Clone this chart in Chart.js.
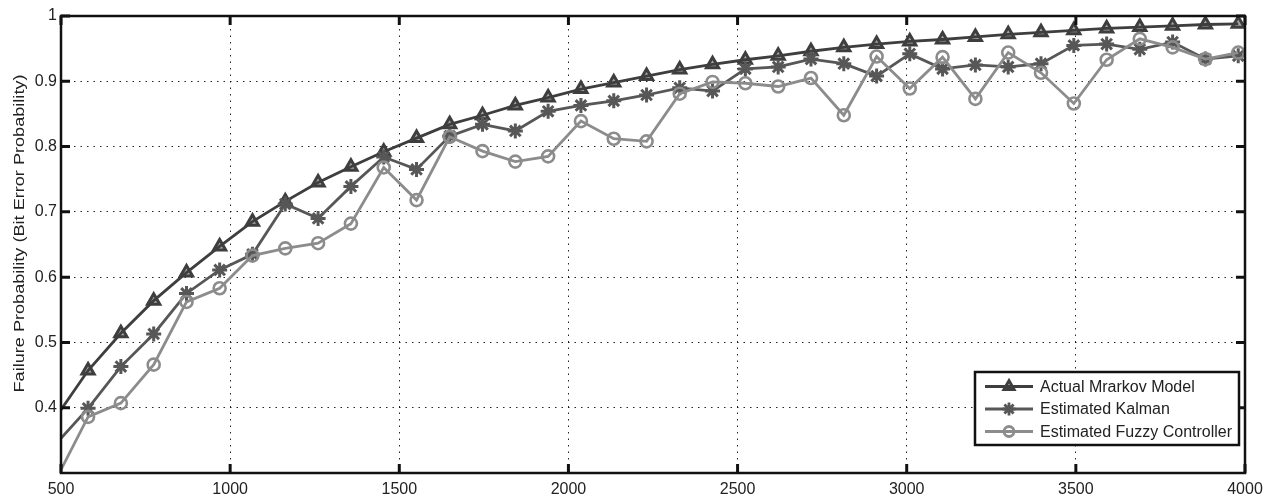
<!DOCTYPE html>
<html>
<head>
<meta charset="utf-8">
<script src="https://cdn.jsdelivr.net/npm/chart.js@4.4.1/dist/chart.umd.min.js"></script>
<style>
  body { margin: 0; background: #fff; }
  #wrap { width: 1271px; height: 498px; }
</style>
</head>
<body>
<div id="wrap"><canvas id="failChart" width="1271" height="498"></canvas></div>
<script>
// x positions of the samples (first one is where the lines leave the left axis)
const xValues = [500, 580, 677, 774, 871, 969, 1066, 1163, 1260, 1357, 1454, 1551, 1649, 1746,
    1843, 1940, 2037, 2134, 2231, 2329, 2426, 2523, 2620, 2717, 2814, 2911, 3009, 3106, 3203,
    3300, 3397, 3494, 3591, 3689, 3786, 3883, 3980];

const actualMarkov = [0.397, 0.457, 0.514, 0.564, 0.607, 0.647, 0.685, 0.716, 0.745, 0.769, 0.792,
    0.813, 0.834, 0.848, 0.863, 0.875, 0.888, 0.898, 0.908, 0.918, 0.926, 0.933, 0.939, 0.946,
    0.952, 0.957, 0.961, 0.964, 0.968, 0.972, 0.975, 0.978, 0.981, 0.983, 0.985, 0.987, 0.988];

const estKalman = [0.353, 0.399, 0.463, 0.513, 0.575, 0.611, 0.635, 0.712, 0.690, 0.739, 0.784,
    0.765, 0.816, 0.834, 0.824, 0.854, 0.863, 0.870, 0.879, 0.890, 0.885, 0.919, 0.922, 0.934,
    0.927, 0.908, 0.942, 0.919, 0.925, 0.922, 0.927, 0.955, 0.957, 0.949, 0.960, 0.934, 0.939];

const estFuzzy = [0.305, 0.386, 0.407, 0.466, 0.562, 0.583, 0.633, 0.644, 0.652, 0.682, 0.768,
    0.718, 0.815, 0.793, 0.777, 0.785, 0.839, 0.812, 0.808, 0.881, 0.899, 0.897, 0.892, 0.905,
    0.848, 0.938, 0.889, 0.937, 0.873, 0.944, 0.913, 0.866, 0.933, 0.965, 0.952, 0.934, 0.944];

const seriesNames = ["Actual Mrarkov Model", "Estimated Kalman", "Estimated Fuzzy Controller"];
const xTicks = [500, 1000, 1500, 2000, 2500, 3000, 3500, 4000];
const yTicks = [0.4, 0.5, 0.6, 0.7, 0.8, 0.9, 1];
const yTitle = 'Failure Probability (Bit Error Probability)';

const FONT = '"Liberation Sans", Arial, Helvetica, sans-serif';

function toPoints(vals) {
    return vals.map((v, i) => ({ x: xValues[i], y: v }));
}
// no marker on the clipped edge point
const radii = r => xValues.map((x, i) => i === 0 ? 0 : r);

function makeSet(label, vals, color, fill, style, r, bw, order) {
    return {
        label: label,
        data: toPoints(vals),
        borderColor: color,
        backgroundColor: 'rgba(0,0,0,0)',
        borderWidth: 2.8,
        pointStyle: style,
        pointRadius: radii(r),
        pointBorderColor: color,
        pointBackgroundColor: fill,
        pointBorderWidth: bw,
        tension: 0,
        order: order
    };
}

const frameAndLegend = {
    id: 'frameAndLegend',
    afterDraw(chart) {
        const { ctx, chartArea: a, scales } = chart;
        ctx.save();
        // axes box
        ctx.strokeStyle = '#111';
        ctx.lineWidth = 2.5;
        ctx.strokeRect(a.left, a.top, a.right - a.left, a.bottom - a.top);
        // inward tick marks on all four sides
        ctx.lineWidth = 3;
        ctx.beginPath();
        xTicks.forEach(v => {
            const px = scales.x.getPixelForValue(v);
            ctx.moveTo(px, a.bottom); ctx.lineTo(px, a.bottom - 9);
            ctx.moveTo(px, a.top); ctx.lineTo(px, a.top + 9);
        });
        yTicks.forEach(v => {
            const py = scales.y.getPixelForValue(v);
            ctx.moveTo(a.left, py); ctx.lineTo(a.left + 9, py);
            ctx.moveTo(a.right, py); ctx.lineTo(a.right - 9, py);
        });
        ctx.stroke();

        // y axis title, stretched along its length like the original
        ctx.save();
        ctx.font = '15px ' + FONT;
        ctx.fillStyle = '#222';
        ctx.textAlign = 'center';
        ctx.textBaseline = 'middle';
        ctx.translate(20, (a.top + a.bottom) / 2 - 11);
        ctx.rotate(-Math.PI / 2);
        const tw = ctx.measureText(yTitle).width;
        ctx.scale(318 / tw, 1);
        ctx.fillText(yTitle, 0, 0);
        ctx.restore();

        // legend box in the lower right corner
        const bw = 264, bh = 73;
        const bx = a.right - bw - 6, by = a.bottom - bh - 28;
        ctx.fillStyle = '#fff';
        ctx.fillRect(bx, by, bw, bh);
        ctx.lineWidth = 2.5;
        ctx.strokeStyle = '#111';
        ctx.strokeRect(bx, by, bw, bh);
        ctx.font = '16px ' + FONT;
        ctx.textBaseline = 'middle';
        chart.data.datasets.forEach((ds, i) => {
            const ry = by + 14.5 + i * 22.5;
            ctx.strokeStyle = ds.borderColor;
            ctx.lineWidth = ds.borderWidth;
            ctx.beginPath();
            ctx.moveTo(bx + 10, ry); ctx.lineTo(bx + 58, ry);
            ctx.stroke();
            ctx.fillStyle = ds.pointBackgroundColor;
            Chart.helpers.drawPoint(ctx, {
                pointStyle: ds.pointStyle, radius: ds.pointRadius[1] - 1,
                borderWidth: ds.pointBorderWidth, rotation: 0
            }, bx + 34, ry);
            ctx.fillStyle = '#222';
            ctx.fillText(ds.label, bx + 65, ry + 1);
        });
        ctx.restore();
    }
};

const gridStyle = {
    color: 'rgba(0,0,0,0.85)',
    lineWidth: 1,
    drawTicks: false
};

new Chart(document.getElementById('failChart'), {
    type: 'line',
    data: {
        datasets: [
            makeSet(seriesNames[0], actualMarkov, '#3e3e3e', 'rgba(62,62,62,0.45)', 'triangle', 7, 3, 3),
            makeSet(seriesNames[1], estKalman, '#575757', 'rgba(0,0,0,0)', 'star', 7.5, 3, 2),
            makeSet(seriesNames[2], estFuzzy, '#8c8c8c', 'rgba(0,0,0,0)', 'circle', 6, 2.6, 1)
        ]
    },
    options: {
        responsive: false,
        animation: false,
        layout: { padding: { top: 16, right: 26, left: 0, bottom: 0 } },
        plugins: {
            legend: { display: false },
            tooltip: { enabled: false }
        },
        scales: {
            x: {
                type: 'linear',
                min: 500,
                max: 4000,
                afterFit: s => { s.height = 25; },
                afterBuildTicks: s => { s.ticks = xTicks.map(v => ({ value: v })); },
                border: { display: false, dash: [1.5, 5] },
                grid: gridStyle,
                ticks: {
                    padding: 7,
                    color: '#222',
                    font: { family: FONT, size: 16 },
                    callback: v => String(v),
                    maxRotation: 0
                }
            },
            y: {
                min: 0.3,
                max: 1,
                afterFit: s => { s.width = 61; },
                afterBuildTicks: s => { s.ticks = [0.3].concat(yTicks).map(v => ({ value: v })); },
                border: { display: false, dash: [1.5, 5] },
                grid: gridStyle,
                ticks: {
                    padding: 4,
                    color: '#222',
                    font: { family: FONT, size: 16 },
                    callback: v => {
                        const r = Math.round(v * 10) / 10;
                        if (r === 0.3) return '';
                        return r === 1 ? '1' : r.toFixed(1);
                    }
                }
            }
        }
    },
    plugins: [frameAndLegend]
});
</script>
</body>
</html>
